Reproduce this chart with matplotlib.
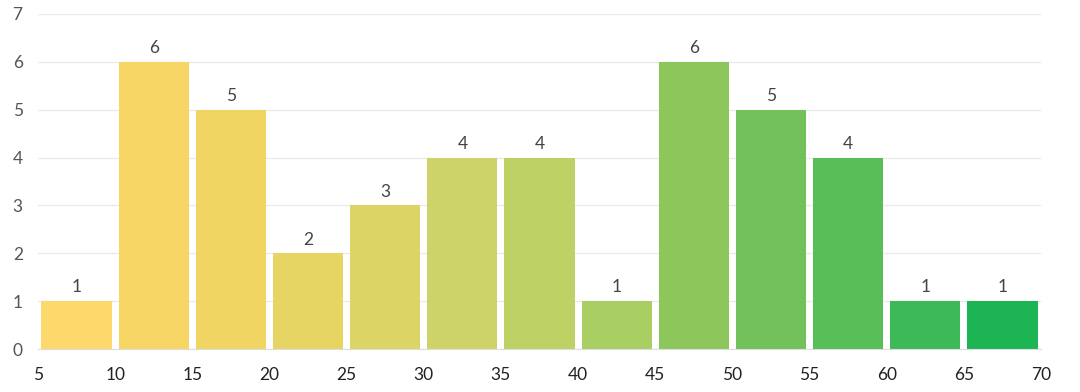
import matplotlib.pyplot as plt

plt.rcParams['font.family'] = ['Lato', 'DejaVu Sans']

# Data
bin_edges = [5, 10, 15, 20, 25, 30, 35, 40, 45, 50, 55, 60, 65, 70]
counts = [1, 6, 5, 2, 3, 4, 4, 1, 6, 5, 4, 1, 1]
bar_colors = ['#fdd86b', '#f8d666', '#f0d563', '#e6d562', '#ddd466', '#cdd368',
              '#bdd165', '#a9cf62', '#8dc75c', '#73c15b', '#58be57', '#3dba57', '#1db554']
y_ticks = [0, 1, 2, 3, 4, 5, 6, 7]

fig = plt.figure(figsize=(10.8, 3.92), dpi=100)
ax = fig.add_axes([38 / 1080, 1 - 349 / 392, (1041 - 38) / 1080, (349 - 14) / 392])

centers = [(a + b) / 2 for a, b in zip(bin_edges[:-1], bin_edges[1:])]
ax.bar(centers, counts, width=4.55, color=bar_colors, zorder=2)

for c, v in zip(centers, counts):
    ax.text(c, v + 0.12, str(v), ha='center', va='bottom', fontsize=12.5, color='#444444')

ax.set_xlim(5, 70)
ax.set_ylim(0, 7)
ax.set_xticks(bin_edges)
ax.set_yticks(y_ticks)
ax.grid(axis='y', color='#ebebeb', linewidth=1, zorder=0)
ax.tick_params(length=0, labelsize=12.5)
ax.tick_params(axis='x', colors='#222222', pad=13)
ax.tick_params(axis='y', colors='#555555', pad=11)
for s in ['top', 'right', 'left']:
    ax.spines[s].set_visible(False)
ax.spines['bottom'].set_color('#dddddd')

fig.savefig('out.png', dpi=100)
